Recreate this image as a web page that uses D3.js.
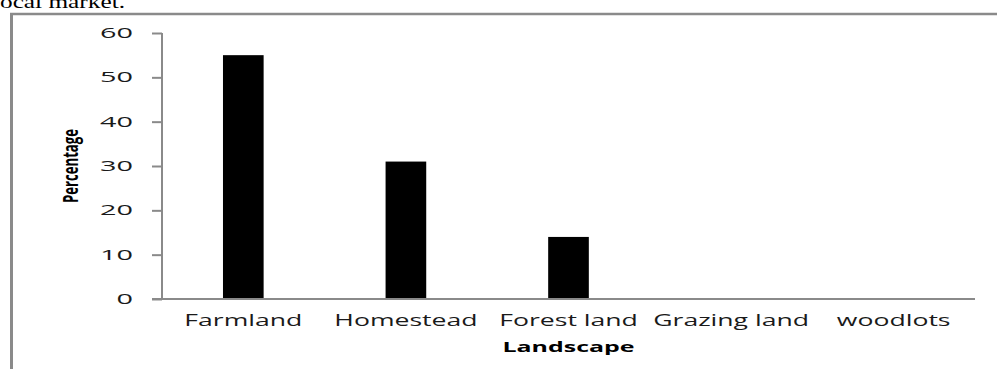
<!DOCTYPE html>
<html>
<head>
<meta charset="utf-8">
<script src="https://cdn.jsdelivr.net/npm/d3@7"></script>
<style>
  html, body { margin: 0; padding: 0; background: #fff; }
  svg { display: block; }
</style>
</head>
<body>
<svg id="chart" width="997" height="369"></svg>
<script>
const categories = ["Farmland", "Homestead", "Forest land", "Grazing land", "woodlots"];
const values = [55, 31, 14, 0, 0];
const yTicks = [0, 10, 20, 30, 40, 50, 60];
const xTitle = "Landscape";
const yTitle = "Percentage";
const caption = "ocal market.";

const svg = d3.select("#chart");
const W = 997, H = 369;
const plot = { left: 162, right: 975, top: 33, bottom: 299 };

// horizontally stretch text to a target width factor
function stretch(sel, factor) {
  sel.each(function () {
    const w = this.getComputedTextLength();
    d3.select(this).attr("textLength", w * factor).attr("lengthAdjust", "spacingAndGlyphs");
  });
}

// caption text at top (cut off in the source)
const cap = svg.append("text")
  .attr("x", 0).attr("y", 8)
  .attr("font-family", "Liberation Serif, Times New Roman, serif")
  .attr("font-size", 19)
  .attr("fill", "#000")
  .text(caption);
stretch(cap, 125 / cap.node().getComputedTextLength());

// frame border
svg.append("line").attr("x1", 11.5).attr("x2", 11.5).attr("y1", 13).attr("y2", H)
  .attr("stroke", "#8a8a8a").attr("stroke-width", 3);
svg.append("line").attr("x1", 10).attr("x2", W).attr("y1", 14).attr("y2", 14)
  .attr("stroke", "#8a8a8a").attr("stroke-width", 2.5);

const x = d3.scaleBand()
  .domain(categories)
  .range([plot.left, plot.right])
  .paddingInner(0.75)
  .paddingOuter(0.375);

const y = d3.scaleLinear().domain([0, 60]).range([plot.bottom, plot.top]);

// bars
svg.append("g").selectAll("rect")
  .data(categories.map((c, i) => ({ c, v: values[i] })))
  .join("rect")
  .attr("x", d => x(d.c))
  .attr("width", x.bandwidth())
  .attr("y", d => y(d.v))
  .attr("height", d => y(0) - y(d.v))
  .attr("fill", "#000");

// y axis
const yAxis = svg.append("g")
  .attr("transform", `translate(${plot.left},0)`)
  .call(d3.axisLeft(y).tickValues(yTicks).tickSize(10).tickPadding(19).tickFormat(d3.format("d")));
yAxis.select(".domain").attr("stroke", "#8a8a8a").attr("stroke-width", 2)
  .attr("d", `M0,${plot.top}V${plot.bottom}`);
yAxis.selectAll(".tick line").attr("stroke", "#8a8a8a").attr("stroke-width", 2);
const yLabels = yAxis.selectAll(".tick text")
  .attr("font-family", "Open Sans, sans-serif")
  .attr("font-size", 14)
  .attr("fill", "#1a1a1a");
const ref60 = yLabels.filter(d => d === 60).node().getComputedTextLength();
stretch(yLabels, 33 / ref60);

// x axis
const xAxis = svg.append("g")
  .attr("transform", `translate(0,${plot.bottom})`)
  .call(d3.axisBottom(x).tickSize(0).tickPadding(16));
xAxis.select(".domain").attr("stroke", "#8a8a8a").attr("stroke-width", 2)
  .attr("d", `M${plot.left - 10},0H${plot.right}`);
const xLabels = xAxis.selectAll(".tick text")
  .attr("font-family", "Open Sans, sans-serif")
  .attr("font-size", 16)
  .attr("fill", "#1a1a1a");
const refF = xLabels.filter(d => d === "Farmland").node().getComputedTextLength();
stretch(xLabels, 118 / refF);

// x title
const xt = svg.append("text")
  .attr("x", (plot.left + plot.right) / 2)
  .attr("y", 352)
  .attr("text-anchor", "middle")
  .attr("font-family", "Open Sans, sans-serif")
  .attr("font-weight", "bold")
  .attr("font-size", 14)
  .attr("fill", "#000")
  .text(xTitle);
stretch(xt, 132 / xt.node().getComputedTextLength());

// y title
const yt = svg.append("text")
  .attr("transform", `translate(78,${(plot.top + plot.bottom) / 2}) rotate(-90)`)
  .attr("text-anchor", "middle")
  .attr("font-family", "Open Sans, sans-serif")
  .attr("font-weight", "bold")
  .attr("font-size", 21)
  .attr("fill", "#000")
  .text(yTitle);
stretch(yt, 74 / yt.node().getComputedTextLength());
</script>
</body>
</html>
